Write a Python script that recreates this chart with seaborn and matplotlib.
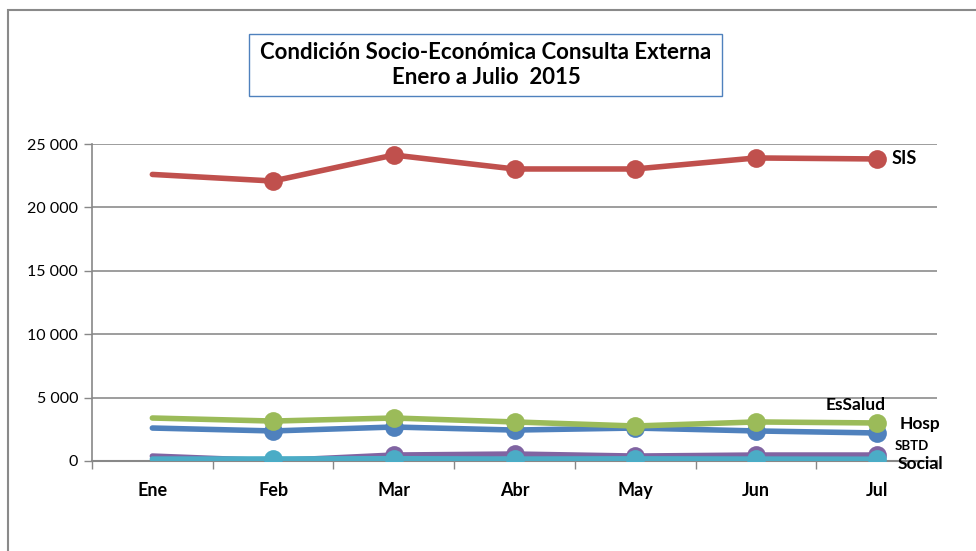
import matplotlib
matplotlib.use("Agg")
import matplotlib.pyplot as plt
import seaborn as sns
import pandas as pd
from matplotlib.patches import Rectangle
from matplotlib.ticker import FuncFormatter, FixedLocator

sns.set_theme(style="white")
plt.rcParams['font.family'] = ['Lato', 'DejaVu Sans']

months = ["Ene", "Feb", "Mar", "Abr", "May", "Jun", "Jul"]
sis = [22600, 22080, 24130, 23030, 23030, 23900, 23820]
essalud = [3390, 3150, 3390, 3080, 2760, 3080, 3000]
hosp = [2600, 2370, 2680, 2440, 2600, 2370, 2210]
sbtd = [390, 20, 470, 550, 390, 470, 470]
social = [150, 160, 180, 150, 170, 150, 140]

series = [
    ("Hosp", hosp, "#4F81BD"),
    ("SBTD", sbtd, "#8064A2"),
    ("SIS", sis, "#C0504D"),
    ("EsSalud", essalud, "#9BBB59"),
    ("Social", social, "#4BACC6"),
]

fig = plt.figure(figsize=(9.76, 5.51), dpi=100)
W, H = 976, 551
ax = fig.add_axes([92 / W, 1 - 461 / H, (937 - 92) / W, (461 - 144) / H])

for name, vals, col in series:
    df = pd.DataFrame({"x": list(range(len(months))), "y": vals})
    sns.lineplot(data=df, x="x", y="y", ax=ax, color=col, linewidth=4.0,
                 marker="o", markersize=13.5, markeredgewidth=0,
                 markevery=list(range(1, len(months))), zorder=3)

ax.set_xlim(-0.5, len(months) - 0.5)
ax.set_ylim(0, 25000)
ax.set_xlabel("")
ax.set_ylabel("")

ax.set_xticks(range(len(months)))
ax.set_xticklabels(months, fontweight="bold", fontsize=13, color="black")
ax.xaxis.set_minor_locator(FixedLocator([i - 0.5 for i in range(len(months) + 1)]))
ax.tick_params(axis="x", which="major", length=0, pad=15)
ax.tick_params(axis="x", which="minor", length=6, color="#888888", width=1, direction="out", bottom=True)

ax.set_yticks([0, 5000, 10000, 15000, 20000, 25000])
ax.yaxis.set_major_formatter(FuncFormatter(lambda v, p: f"{int(v):,}".replace(",", " ")))
ax.tick_params(axis="y", length=6, color="#888888", width=1, direction="out", left=True,
               labelsize=11.5, labelcolor="black", pad=4)
ax.grid(axis="y", color="#8c8c8c", linewidth=1.2)
ax.set_axisbelow(True)

for s in ["top", "right"]:
    ax.spines[s].set_visible(False)
ax.spines["left"].set_color("#888888")
ax.spines["left"].set_linewidth(1.2)
ax.spines["bottom"].set_color("#888888")
ax.spines["bottom"].set_linewidth(1.5)

# series labels at the last point
last = len(months) - 1
labels = [
    ("SIS", sis[last], (15, 0), "left", 13),
    ("EsSalud", essalud[last], (-21, 18), "center", 12.5),
    ("Hosp", hosp[last], (23, 9), "left", 12.5),
    ("SBTD", sbtd[last], (18, 9), "left", 9.5),
    ("Social", social[last], (21, -5), "left", 12.5),
]
for txt, v, off, ha, fs in labels:
    ax.annotate(txt, xy=(last, v), xytext=off, textcoords="offset pixels",
                ha=ha, va="center", fontsize=fs, fontweight="bold", color="black",
                annotation_clip=False, zorder=5)

# title box
fig.patches.append(Rectangle((249 / W, 1 - 96 / H), (722 - 249) / W, (96 - 34) / H,
                             transform=fig.transFigure, fill=False,
                             edgecolor="#4F81BD", linewidth=1.0))
fig.text(486 / W, 1 - 65 / H, "Condición Socio-Económica Consulta Externa\nEnero a Julio  2015",
         ha="center", va="center", fontsize=16, fontweight="bold", color="black",
         linespacing=1.2)

# outer chart frame
fig.patches.append(Rectangle((7.5 / W, -0.05), 1.1, 1 - 9.5 / H + 0.05,
                             transform=fig.transFigure, fill=False,
                             edgecolor="#8a8a8a", linewidth=1.5))

fig.savefig("out.png", dpi=100)
